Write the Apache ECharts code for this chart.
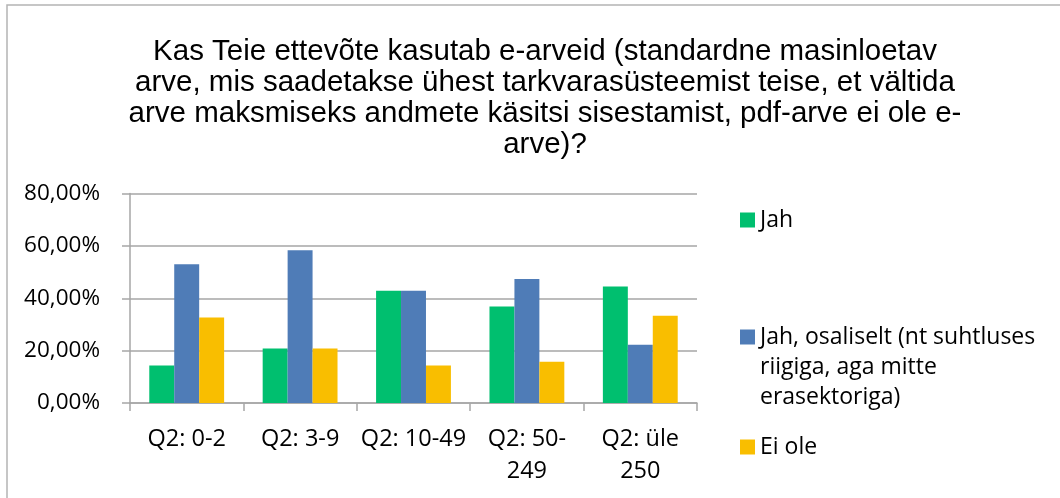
<!DOCTYPE html>
<html>
<head>
<meta charset="utf-8">
<script src="https://cdn.jsdelivr.net/npm/echarts@6/dist/echarts.min.js"></script>
<style>
  html, body { margin: 0; padding: 0; background: #fff; }
  #main { width: 1060px; height: 498px; }
</style>
</head>
<body>
<div id="main"></div>
<script>
// andmed
var titleText = 'Kas Teie ettevõte kasutab e-arveid (standardne masinloetav\narve, mis saadetakse ühest tarkvarasüsteemist teise, et vältida\narve maksmiseks andmete käsitsi sisestamist, pdf-arve ei ole e-\narve)?';
var categories = ['Q2: 0-2', 'Q2: 3-9', 'Q2: 10-49', 'Q2: 50-\n249', 'Q2: üle\n250'];
var seriesNames = ['Jah', 'Jah, osaliselt (nt suhtluses riigiga, aga mitte erasektoriga)', 'Ei ole'];
var jah = [14.29, 20.83, 42.86, 36.84, 44.44];
var osaliselt = [52.94, 58.33, 42.86, 47.37, 22.22];
var eiOle = [32.65, 20.83, 14.29, 15.79, 33.33];
var yTicks = [0, 20, 40, 60, 80];

var colors = ['#00BF6F', '#4F7CB7', '#F9BE00'];
var fontMain = '"Open Sans", Lato, sans-serif';

var chart = echarts.init(document.getElementById('main'));

function legendBox(name, top) {
    return {
        data: [name],
        orient: 'vertical',
        left: 740,
        top: top,
        padding: 0,
        itemWidth: 15,
        itemHeight: 15,
        icon: 'rect',
        selectedMode: false,
        formatter: function (n) {
            // pikk nimi murtakse nagu originaalis, ikoon esimese rea kõrvale
            if (n.indexOf('suhtluses ') < 0) return n;
            return '\n\n' + n.replace('suhtluses ', 'suhtluses\n').replace('mitte ', 'mitte\n');
        },
        textStyle: {
            color: '#000',
            fontFamily: fontMain,
            fontSize: 23,
            lineHeight: 30
        }
    };
}

var option = {
    animation: false,
    color: colors,
    title: {
        text: titleText,
        left: 540,
        top: 31,
        textAlign: 'center',
        textStyle: {
            fontFamily: '"Liberation Sans", Arial, sans-serif',
            fontWeight: 'normal',
            fontSize: 29.5,
            lineHeight: 31,
            color: '#000'
        }
    },
    graphic: [{
        type: 'rect',
        shape: { x: 7, y: 5, width: 1100, height: 600 },
        style: { fill: 'none', stroke: '#b4b4b4', lineWidth: 1.5 },
        silent: true
    }],
    legend: [
        legendBox(seriesNames[0], 205),
        legendBox(seriesNames[1], 262),
        legendBox(seriesNames[2], 432)
    ],
    grid: {
        left: 130,
        right: 363,
        top: 193.5,
        bottom: 95,
        containLabel: false
    },
    xAxis: {
        type: 'category',
        data: categories,
        axisLine: { lineStyle: { color: '#a6a6a6', width: 1.5 } },
        axisTick: { show: true, length: 8, lineStyle: { color: '#a6a6a6', width: 1.5 } },
        axisLabel: {
            color: '#000',
            fontFamily: fontMain,
            fontSize: 23.5,
            lineHeight: 32,
            margin: 20,
            interval: 0
        }
    },
    yAxis: {
        type: 'value',
        min: yTicks[0],
        max: yTicks[yTicks.length - 1],
        interval: 20,
        axisLine: { show: true, lineStyle: { color: '#a6a6a6', width: 1.5 } },
        axisTick: { show: true, length: 8, lineStyle: { color: '#a6a6a6', width: 1.5 } },
        splitLine: { lineStyle: { color: '#a6a6a6', width: 1.5 } },
        axisLabel: {
            color: '#000',
            fontFamily: fontMain,
            fontSize: 22.5,
            margin: 30,
            formatter: function (v) {
                return v.toFixed(2).replace('.', ',') + '%';
            }
        }
    },
    series: [
        { name: seriesNames[0], type: 'bar', data: jah, barGap: '0%', barCategoryGap: '34%' },
        { name: seriesNames[1], type: 'bar', data: osaliselt, barGap: '0%', barCategoryGap: '34%' },
        { name: seriesNames[2], type: 'bar', data: eiOle, barGap: '0%', barCategoryGap: '34%' }
    ]
};

chart.setOption(option);
</script>
</body>
</html>
